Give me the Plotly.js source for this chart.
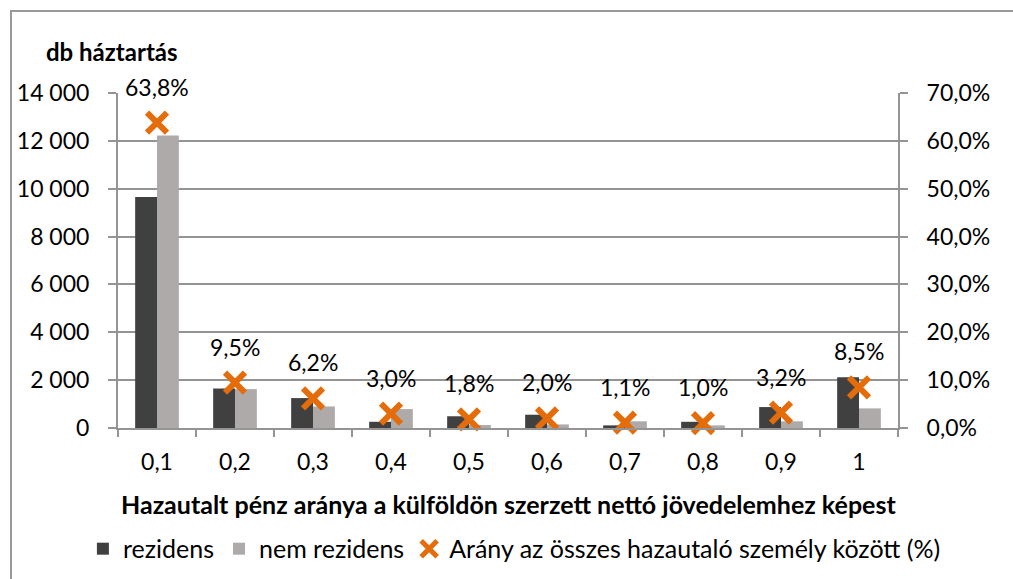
<!DOCTYPE html>
<html><head><meta charset="utf-8">
<script src="https://cdn.plot.ly/plotly-3.0.1.min.js"></script>
<style>
html,body{margin:0;padding:0;background:#fff;}
#frame{position:absolute;left:10px;top:10px;width:1003px;height:569px;border-left:2px solid #999;border-top:2px solid #999;box-sizing:border-box;}
#chart{position:absolute;left:0;top:0;width:1013px;height:579px;}
</style></head>
<body>
<div id="frame"></div>
<div id="chart"></div>
<script>
const categories = ["0,1","0,2","0,3","0,4","0,5","0,6","0,7","0,8","0,9","1"];
const rezidens = [9650,1650,1250,260,490,555,110,260,875,2125];
const nemRezidens = [12220,1625,900,790,125,150,280,110,280,820];
const arany = [63.8,9.5,6.2,3.0,1.8,2.0,1.1,1.0,3.2,8.5];
const aranyLabels = ["63,8%","9,5%","6,2%","3,0%","1,8%","2,0%","1,1%","1,0%","3,2%","8,5%"];
const leftTicks = [0,2000,4000,6000,8000,10000,12000,14000];

const font = "Lato, 'Open Sans', sans-serif";
const axisColor = '#949494';
const traces = [
  {type:'bar', name:'rezidens', x:categories, y:rezidens, marker:{color:'#404040'}, hoverinfo:'skip'},
  {type:'bar', name:'nem rezidens', x:categories, y:nemRezidens, marker:{color:'#aeaaaa'}, hoverinfo:'skip'},
  {type:'scatter', mode:'markers', name:'Arány az összes hazautaló személy között (%)',
   x:categories, y:arany, yaxis:'y2',
   marker:{symbol:'x-thin', size:20, color:'#e46c0a', line:{width:6, color:'#e46c0a'}}, hoverinfo:'skip', cliponaxis:false}
];
const labelAnnotations = categories.map((c,i)=>({
  text:aranyLabels[i], x:i, y:arany[i], xref:'x', yref:'y2', xanchor:'center', yanchor:'bottom',
  yshift:20, showarrow:false, font:{size:23, color:'#000', family:font}
}));
const layout = {
  width:1013, height:579,
  margin:{l:118, r:115, t:93, b:151, autoexpand:false},
  paper_bgcolor:'rgba(0,0,0,0)', plot_bgcolor:'rgba(0,0,0,0)',
  separators:', ',
  font:{family:font, size:23, color:'#000'},
  barmode:'group', bargap:0.44, bargroupgap:0,
  showlegend:true,
  legend:{orientation:'h', x:-0.045, xanchor:'left', y:-0.361, yanchor:'middle',
          font:{size:25}, itemwidth:30, tracegroupgap:0},
  xaxis:{type:'category', range:[-0.5,9.5], showline:true, linecolor:axisColor, linewidth:2, ticks:'outside', tickson:'boundaries',
         ticklen:7, tickcolor:axisColor, tickwidth:2, showgrid:false, tickfont:{size:23}, ticklabelstandoff:12},
  yaxis:{range:[0,14000], tickvals:leftTicks, tickformat:',d', showline:true, linecolor:axisColor, linewidth:2,
         ticks:'outside', ticklen:8, tickcolor:axisColor, tickwidth:2, showgrid:true, gridcolor:axisColor, gridwidth:2,
         zeroline:false, tickfont:{size:23}, ticklabelstandoff:14},
  yaxis2:{overlaying:'y', side:'right', range:[0,70], dtick:10, tickformat:'.1f', ticksuffix:'%', showline:true,
          linecolor:axisColor, linewidth:2, ticks:'outside', ticklen:8, tickcolor:axisColor, tickwidth:2,
          showgrid:false, zeroline:false, tickfont:{size:23}, ticklabelstandoff:14},
  annotations:[
    {text:'<b>db háztartás</b>', xref:'paper', yref:'paper', x:-0.095, y:1.125, xanchor:'left', yanchor:'middle',
     showarrow:false, font:{size:24}},
    {text:'<b>Hazautalt pénz aránya a külföldön szerzett nettó jövedelemhez képest</b>', xref:'paper', yref:'paper',
     x:0.5, y:-0.227, xanchor:'center', yanchor:'middle', showarrow:false, font:{size:25}}
  ].concat(labelAnnotations)
};
Plotly.newPlot('chart', traces, layout, {staticPlot:true, displayModeBar:false});
</script>
</body></html>
